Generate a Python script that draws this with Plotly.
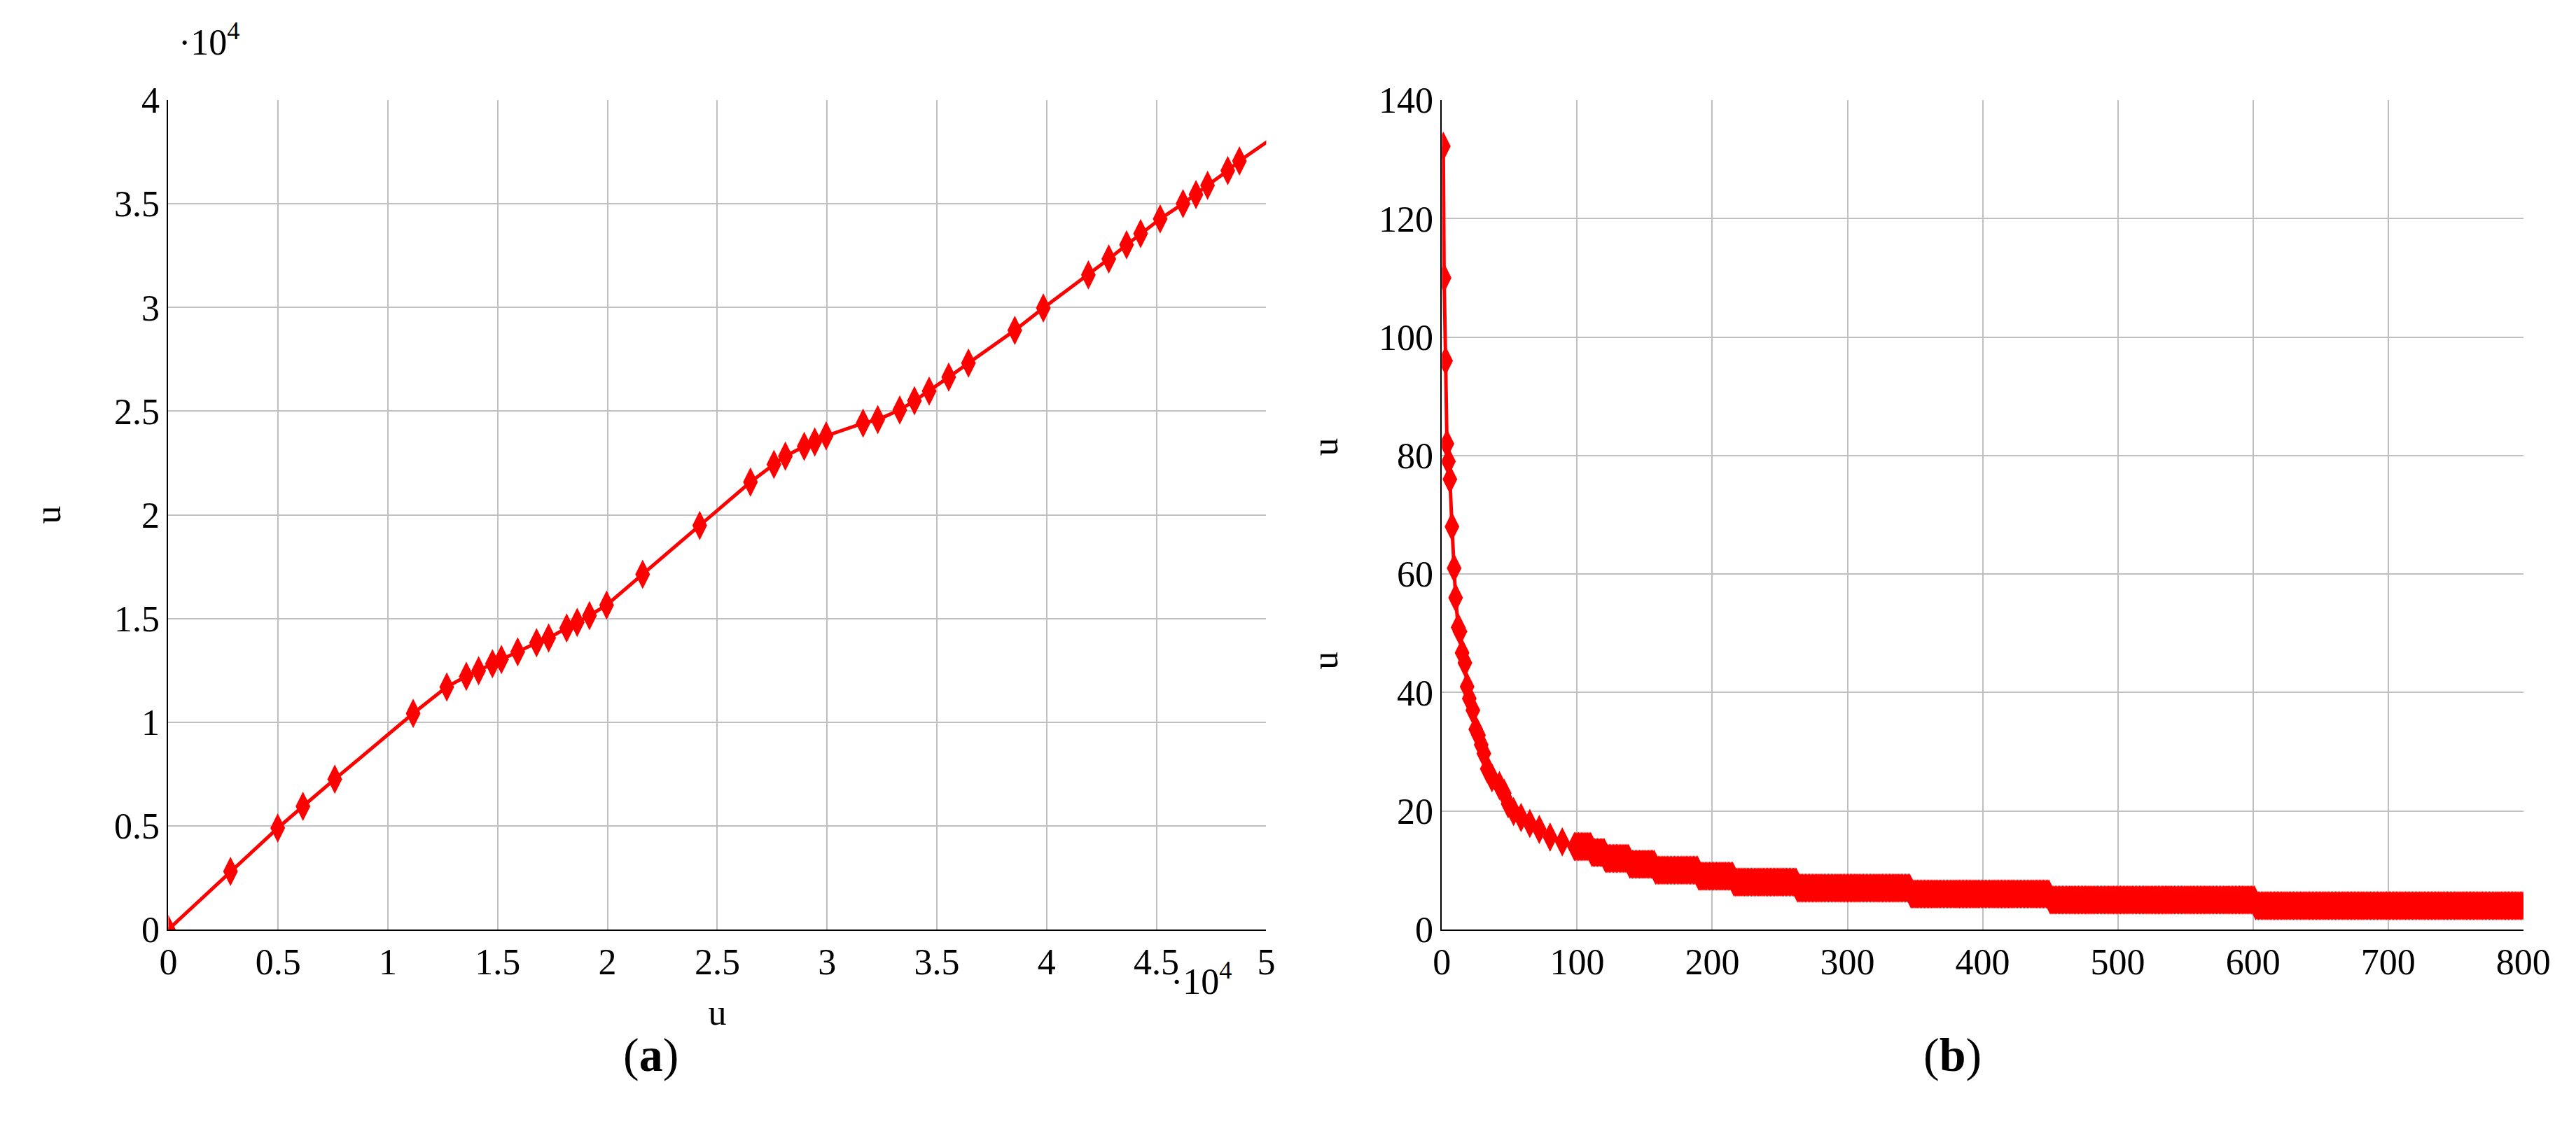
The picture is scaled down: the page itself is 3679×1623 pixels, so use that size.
import numpy as np
import plotly.graph_objects as go

# panel (a) readings
a_x = [0, 2830, 4980, 6130, 7580, 11150, 12680, 13570, 14130, 14760, 15170, 15910, 16770,
       17320, 18140, 18620, 19180, 19960, 21600, 24200, 26510, 27580, 28100, 28960, 29440,
       29960, 31640, 32310, 33310, 33980, 34650, 35540, 36440, 38550, 39850, 41900, 42830,
       43640, 44280, 45170, 46210, 46800, 47330, 48250, 48780, 51000]
a_y = [0, 2800, 4890, 5940, 7250, 10420, 11700, 12210, 12480, 12820, 13020, 13390, 13830,
       14060, 14540, 14810, 15140, 15650, 17130, 19490, 21580, 22430, 22830, 23300, 23510,
       23810, 24420, 24590, 25060, 25500, 25970, 26640, 27320, 28900, 29980, 31570, 32340,
       33020, 33560, 34270, 35010, 35450, 35890, 36600, 37070, 38700]
a_xticks = [0, 5000, 10000, 15000, 20000, 25000, 30000, 35000, 40000, 45000, 50000]
a_xlabels = ["0", "0.5", "1", "1.5", "2", "2.5", "3", "3.5", "4", "4.5", "5"]
a_yticks = [0, 5000, 10000, 15000, 20000, 25000, 30000, 35000, 40000]
a_ylabels = ["0", "0.5", "1", "1.5", "2", "2.5", "3", "3.5", "4"]

# panel (b) readings: early curve, then plateaus (start, end, value)
b_x = [1, 1.6, 2.7, 3.7, 4.8, 5.9, 7.4, 9, 10.1, 12, 13.3, 14.9, 17, 18.6, 20.2, 22.9, 25, 27,
       29, 31, 33.5, 37, 42.5, 46, 49, 53, 58.5, 65, 72, 80, 89, 98]
b_y = [132.2, 110, 96, 82, 79, 76, 68, 61, 56, 51, 50.3, 46.7, 45, 41, 39, 37, 33.8, 32.8,
       31.2, 29.7, 27.1, 25.6, 24.3, 23, 21.2, 19.9, 18.9, 17.9, 16.9, 15.6, 14.8, 14]
plateau_start = [99, 111, 121, 139, 158, 190, 216, 263, 347, 450, 602]
plateau_end = [110, 120, 138, 157, 189, 215, 262, 346, 449, 601, 800]
plateau_value = [14, 13, 12, 11, 10, 9, 8, 7, 6, 5, 4]

px_ = list(b_x)
py_ = list(b_y)
for s, e, v in zip(plateau_start, plateau_end, plateau_value):
    xs = np.arange(s, e + 1)
    px_ += list(xs)
    py_ += [v] * len(xs)

red = "#ff0000"
font = dict(family="Liberation Serif", size=52, color="black")
mk = dict(symbol="diamond-tall", size=30, color=red)

fig = go.Figure()
fig.add_trace(go.Scatter(x=a_x, y=a_y, mode="lines+markers", xaxis="x", yaxis="y",
                         line=dict(color=red, width=5), marker=mk))
fig.add_trace(go.Scatter(x=px_, y=py_, mode="lines+markers", xaxis="x2", yaxis="y2",
                         line=dict(color=red, width=5), marker=mk))

ax = dict(showgrid=True, gridcolor="#c0c0c0", gridwidth=2, showline=True, linecolor="black",
          linewidth=2, zeroline=False, ticks="", tickfont=font)
fig.update_layout(
    width=3679, height=1623, showlegend=False, plot_bgcolor="white", paper_bgcolor="white",
    margin=dict(l=0, r=0, t=0, b=0), font=font,
    xaxis=dict(ax, domain=[0.0605, 0.4928], range=[0, 50000], tickvals=a_xticks,
               ticktext=a_xlabels, anchor="y",
               title=dict(text="u", font=font, standoff=25)),
    yaxis=dict(ax, domain=[0.175, 0.9316], range=[0, 40000], tickvals=a_yticks,
               ticktext=a_ylabels, anchor="x",
               title=dict(text="u", font=font, standoff=60)),
    xaxis2=dict(ax, domain=[0.562, 0.9878], range=[0, 800], dtick=100, anchor="y2"),
    yaxis2=dict(ax, domain=[0.175, 0.9316], range=[0, 140], dtick=20, anchor="x2"),
)
# exponent markers and right-panel axis labels
fig.add_annotation(text="·10<sup>4</sup>", xref="paper", yref="paper", x=0.064, y=0.965,
                   xanchor="left", yanchor="bottom", showarrow=False, font=font)
fig.add_annotation(text="·10<sup>4</sup>", xref="paper", yref="paper", x=0.48, y=0.13,
                   xanchor="right", yanchor="middle", showarrow=False, font=font)
for yy in [0.615, 0.42]:
    fig.add_annotation(text="u", xref="paper", yref="paper", x=0.516, y=yy, textangle=-90,
                       showarrow=False, font=font)
# captions
cap = dict(family="Liberation Serif", size=68, color="black")
fig.add_annotation(text="(<b>a</b>)", xref="paper", yref="paper", x=0.239, y=0.035,
                   showarrow=False, font=cap)
fig.add_annotation(text="(<b>b</b>)", xref="paper", yref="paper", x=0.775, y=0.035,
                   showarrow=False, font=cap)

fig.write_html("out.html")
